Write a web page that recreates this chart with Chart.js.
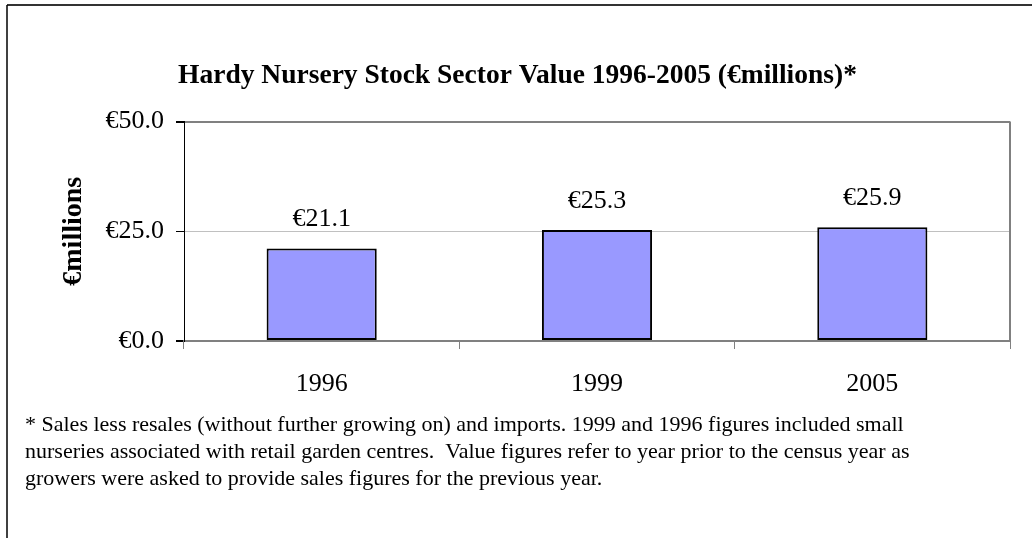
<!DOCTYPE html>
<html>
<head>
<meta charset="utf-8">
<title>Hardy Nursery Stock Sector Value</title>
<script src="https://cdn.jsdelivr.net/npm/chart.js@4.4.1/dist/chart.umd.min.js"></script>
<style>
  html, body { margin: 0; padding: 0; background: #fff; }
  #wrap { width: 1032px; height: 538px; position: relative; }
</style>
</head>
<body>
<div id="wrap"><canvas id="nurseryChart"></canvas></div>
<script>
// data
const years = ["1996", "1999", "2005"];
const values = [21.1, 25.3, 25.9];
const yTicks = [0, 25, 50];
const titleText = "Hardy Nursery Stock Sector Value 1996-2005 (€millions)*";
const yTitle = "€millions";
const footnote = [
  "* Sales less resales (without further growing on) and imports. 1999 and 1996 figures included small",
  "nurseries associated with retail garden centres.  Value figures refer to year prior to the census year as",
  "growers were asked to provide sales figures for the previous year.",
];

const serif = "'Liberation Serif', 'Times New Roman', serif";
const euro = (v) => "€" + Number(v).toFixed(1);

// frame lines (top + left of the whole figure) and right edge of the plot
const framePlugin = {
  id: "frame",
  beforeDraw(chart) {
    const { ctx, width, height } = chart;
    ctx.save();
    ctx.fillStyle = "#fff";
    ctx.fillRect(0, 0, width, height);
    ctx.strokeStyle = "#333";
    ctx.lineWidth = 2;
    ctx.beginPath();
    ctx.moveTo(7, 5);
    ctx.lineTo(width, 5);
    ctx.stroke();
    ctx.strokeStyle = "#000";
    ctx.lineWidth = 1.5;
    ctx.beginPath();
    ctx.moveTo(7, 5);
    ctx.lineTo(7, height);
    ctx.stroke();
    ctx.restore();
  },
  beforeDatasetsDraw(chart) {
    const { ctx, chartArea } = chart;
    ctx.save();
    ctx.strokeStyle = "#808080";
    ctx.lineWidth = 2;
    ctx.beginPath();
    ctx.moveTo(chartArea.right, chartArea.top);
    ctx.lineTo(chartArea.right, chartArea.bottom);
    ctx.stroke();
    ctx.restore();
  },
};

// value labels above the bars
const valueLabels = {
  id: "valueLabels",
  afterDatasetsDraw(chart) {
    const { ctx } = chart;
    const meta = chart.getDatasetMeta(0);
    ctx.save();
    ctx.font = "26px " + serif;
    ctx.fillStyle = "#000";
    ctx.textAlign = "center";
    ctx.textBaseline = "middle";
    meta.data.forEach((bar, i) => {
      ctx.fillText(euro(values[i]), bar.x, bar.y - 29);
    });
    ctx.restore();
  },
};

new Chart(document.getElementById("nurseryChart"), {
  type: "bar",
  data: {
    labels: years,
    datasets: [
      {
        data: values,
        backgroundColor: "#9999ff",
        borderColor: "#000",
        borderWidth: 2,
        borderSkipped: false,
        barPercentage: 0.4,
        categoryPercentage: 1,
      },
    ],
  },
  options: {
    responsive: true,
    maintainAspectRatio: false,
    devicePixelRatio: 1,
    animation: false,
    layout: { padding: { left: 25, right: 22, top: 0, bottom: 0 } },
    plugins: {
      legend: { display: false },
      tooltip: { enabled: false },
      title: {
        display: true,
        text: titleText,
        color: "#000",
        font: { family: serif, size: 27.5, weight: "bold", lineHeight: 1.2 },
        padding: { top: 59, bottom: 29.5 },
      },
      subtitle: {
        display: true,
        position: "bottom",
        align: "start",
        text: footnote,
        color: "#000",
        font: { family: serif, size: 22, lineHeight: 1.227 },
        padding: { top: 0, bottom: 45.5 },
      },
    },
    scales: {
      x: {
        afterFit(scale) {
          scale.height = 70.5;
        },
        grid: {
          offset: true,
          drawOnChartArea: false,
          drawTicks: true,
          tickLength: 8,
          tickColor: "#808080",
        },
        border: { color: "#808080", width: 2 },
        ticks: {
          color: "#000",
          padding: 20,
          font: { family: serif, size: 26 },
        },
      },
      y: {
        min: 0,
        max: 50,
        afterFit(scale) {
          scale.width = 159;
        },
        afterBuildTicks(scale) {
          scale.ticks = yTicks.map((v) => ({ value: v }));
        },
        grid: {
          color: (c) => (c.tick && c.tick.value === 25 ? "#c0c0c0" : "#808080"),
          lineWidth: (c) => (c.tick && c.tick.value === 25 ? 1 : 2),
          tickColor: "#000",
          tickLength: 8,
        },
        border: { color: "#000", width: 1 },
        ticks: {
          color: "#000",
          padding: 12,
          font: { family: serif, size: 26 },
          callback: (v) => euro(v),
        },
        title: {
          display: true,
          text: yTitle,
          color: "#000",
          font: { family: serif, size: 28, weight: "bold", lineHeight: 1.2 },
          padding: { top: 32, bottom: 0 },
        },
      },
    },
  },
  plugins: [framePlugin, valueLabels],
});
</script>
</body>
</html>
